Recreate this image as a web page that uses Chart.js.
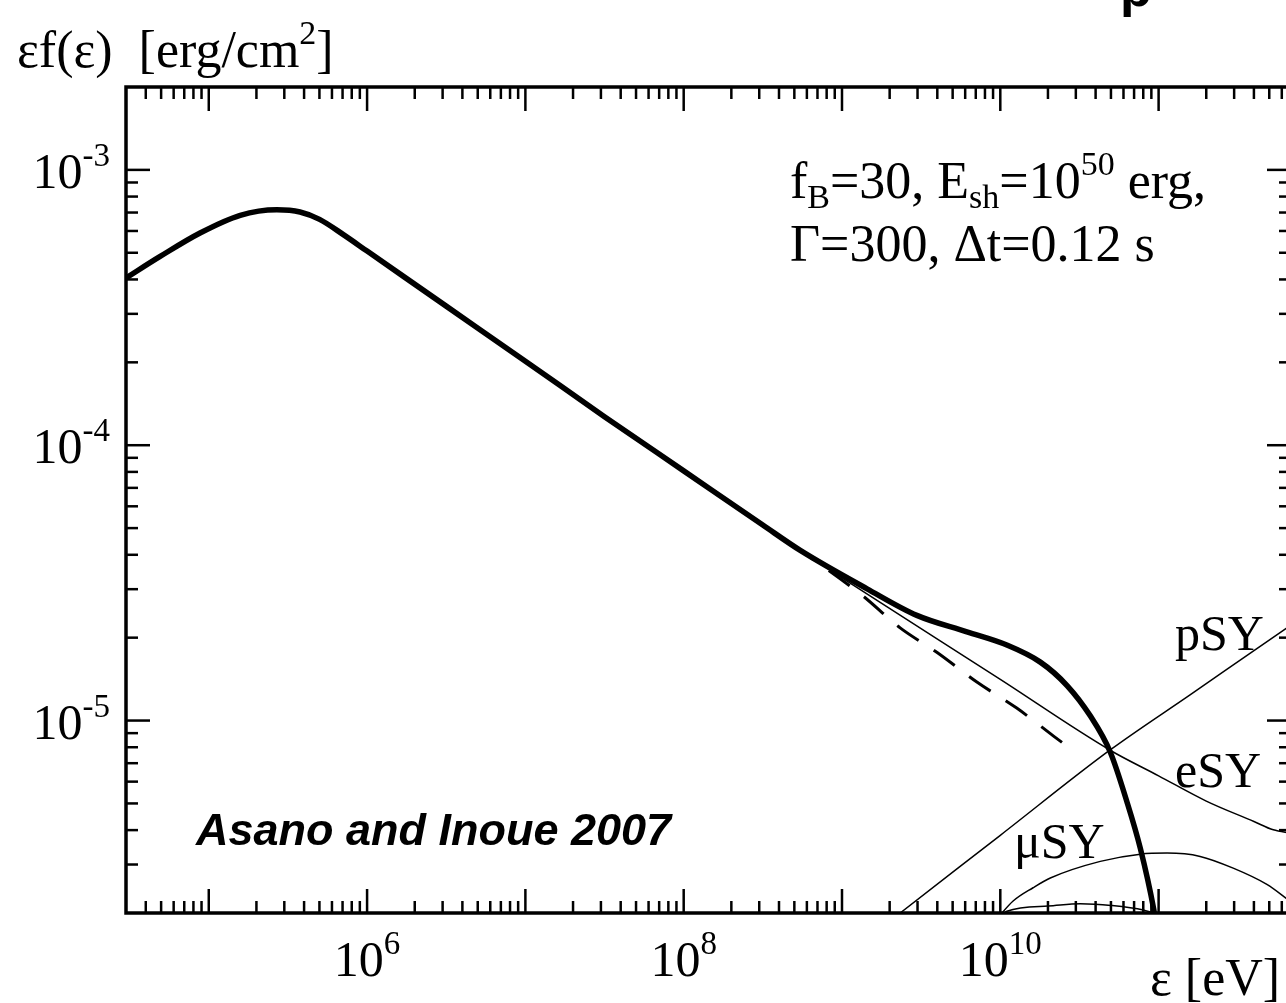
<!DOCTYPE html>
<html>
<head>
<meta charset="utf-8">
<script src="https://cdn.jsdelivr.net/npm/chart.js@4.4.1/dist/chart.umd.min.js"></script>
<style>
  html, body { margin: 0; padding: 0; background: #fff; overflow: hidden; }
  #wrap { width: 1286px; height: 1003px; overflow: hidden; }
</style>
</head>
<body>
<div id="wrap"><canvas id="spec" width="1300" height="1003"></canvas></div>
<script>
// photon energy eps [eV] and eps*f(eps) [erg/cm^2]
const totalE = [3.0e4, 4.93e4, 8.81e4, 1.58e5, 2.69e5, 3.77e5, 5.01e5, 7.08e5, 1e6, 3.16e6, 1e7, 3.16e7, 1e8, 3.16e8, 5.45e8,
                1.44e9, 2.97e9, 6.15e9, 1.10e10, 1.79e10, 2.64e10, 3.70e10, 4.94e10, 6.30e10, 7.66e10, 9.29e10, 1.0e11];
const totalF = [4.05e-4, 4.85e-4, 5.90e-4, 6.84e-4, 7.16e-4, 7.03e-4, 6.61e-4, 5.82e-4, 5.07e-4, 3.20e-4, 2.02e-4, 1.27e-4, 8.07e-5, 5.13e-5, 4.15e-5,
                3.01e-5, 2.41e-5, 2.10e-5, 1.88e-5, 1.63e-5, 1.34e-5, 1.04e-5, 7.7e-6, 5.08e-6, 3.44e-6, 2.08e-6, 1.6e-6];

// electron synchrotron (thin line)
const eSyE = [3.0e4, 4.93e4, 8.81e4, 1.58e5, 2.69e5, 3.77e5, 5.01e5, 7.08e5, 1e6, 3.16e6, 1e7, 3.16e7, 1e8, 3.16e8, 5.45e8,
              1e9, 1e10, 4.94e10, 1e11, 2e11, 4e11, 5.3e11, 6.86e11];
const eSyF = [4.05e-4, 4.85e-4, 5.90e-4, 6.84e-4, 7.16e-4, 7.03e-4, 6.61e-4, 5.82e-4, 5.07e-4, 3.20e-4, 2.02e-4, 1.27e-4, 8.07e-5, 5.13e-5, 4.15e-5,
              3.30e-5, 1.41e-5, 7.8e-6, 6.3e-6, 5.1e-6, 4.3e-6, 4.01e-6, 3.9e-6];

// dashed curve
const dashE = [1e8, 3.16e8, 5.45e8, 1.34e9, 2.33e9, 3.97e9, 7.11e9, 1.27e10, 2.16e10, 2.5e10];
const dashF = [8.07e-5, 5.13e-5, 4.15e-5, 2.85e-5, 2.17e-5, 1.77e-5, 1.38e-5, 1.11e-5, 8.8e-6, 8.26e-6];

// proton synchrotron
const pSyE = [1.58e9, 2.33e9, 1e10, 4.94e10, 1.58e11, 6.4e11, 6.86e11];
const pSyF = [1.68e-6, 2.0e-6, 3.83e-6, 7.82e-6, 1.24e-5, 2.16e-5, 2.22e-5];

// muon synchrotron (upper arc) and the small arc under it
const muSyE = [9.55e9, 1.205e10, 1.61e10, 2.07e10, 4.28e10, 7.66e10, 1.13e11, 1.83e11, 2.96e11, 4.83e11, 6.40e11, 6.86e11];
const muSyF = [1.91e-6, 2.21e-6, 2.47e-6, 2.68e-6, 3.08e-6, 3.27e-6, 3.30e-6, 3.21e-6, 2.91e-6, 2.54e-6, 2.26e-6, 2.19e-6];
const smallE = [9.55e9, 1.1e10, 2e10, 3.2e10, 5e10, 8e10, 1.2e11];
const smallF = [1.85e-6, 2.03e-6, 2.12e-6, 2.16e-6, 2.13e-6, 2.05e-6, 1.9e-6];

const xLabelExp = [6, 8, 10];
const yLabelExp = [-3, -4, -5];

const SERIF = '"Liberation Serif", "Times New Roman", serif';

function pts(xs, ys) { return xs.map((x, i) => ({ x: x, y: ys[i] })); }

// draws text runs; kind '' normal, 'sup' superscript, 'sub' subscript
function rich(ctx, parts, x, y, size, align) {
  const small = Math.round(size * 0.66);
  let total = 0;
  parts.forEach(p => {
    ctx.font = (p[1] ? small : size) + 'px ' + SERIF;
    total += ctx.measureText(p[0]).width;
  });
  let cx = align === 'center' ? x - total / 2 : align === 'right' ? x - total : x;
  ctx.textAlign = 'left';
  ctx.textBaseline = 'alphabetic';
  parts.forEach(p => {
    ctx.font = (p[1] ? small : size) + 'px ' + SERIF;
    const dy = p[1] === 'sup' ? -size * 0.44 : p[1] === 'sub' ? size * 0.2 : 0;
    ctx.fillText(p[0], cx, y + dy);
    cx += ctx.measureText(p[0]).width;
  });
}

const frame = {
  id: 'frame',
  afterDraw(chart) {
    const { ctx, chartArea: a, scales: { x, y } } = chart;
    ctx.save();
    ctx.strokeStyle = '#000';
    ctx.fillStyle = '#000';
    ctx.lineCap = 'butt';
    const seg = (x1, y1, x2, y2) => { ctx.beginPath(); ctx.moveTo(x1, y1); ctx.lineTo(x2, y2); ctx.stroke(); };

    ctx.lineWidth = 2.5;
    for (let d = 4; d <= 12; d++) {
      for (let m = 1; m <= 9; m++) {
        const v = Number(m + 'e' + d);
        if (v <= x.min * 1.01 || v >= x.max) continue;
        const px = x.getPixelForValue(v);
        const len = m === 1 ? 24 : 12;
        seg(px, a.bottom, px, a.bottom - len);
        seg(px, a.top, px, a.top + len);
      }
    }
    for (let d = -7; d <= -3; d++) {
      for (let m = 1; m <= 9; m++) {
        const v = Number(m + 'e' + d);
        if (v <= y.min * 1.01 || v >= y.max * 0.99) continue;
        const py = y.getPixelForValue(v);
        const len = m === 1 ? 24 : 12;
        seg(a.left, py, a.left + len, py);
        seg(a.right, py, a.right - len, py);
      }
    }

    ctx.lineWidth = 3.5;
    ctx.strokeRect(a.left, a.top, a.right - a.left, a.bottom - a.top);

    xLabelExp.forEach(e => {
      rich(ctx, [['10', ''], [String(e), 'sup']], x.getPixelForValue(Number('1e' + e)), 976, 50, 'center');
    });
    yLabelExp.forEach(e => {
      rich(ctx, [['10', ''], [String(e), 'sup']], 110, y.getPixelForValue(Number('1e' + e)) + 18, 50, 'right');
    });

    rich(ctx, [['\u03B5f(\u03B5)  [erg/cm', ''], ['2', 'sup'], [']', '']], 17, 67, 52, 'left');
    rich(ctx, [['\u03B5 [eV]', '']], 1150, 995, 52, 'left');

    rich(ctx, [['f', ''], ['B', 'sub'], ['=30, E', ''], ['sh', 'sub'], ['=10', ''], ['50', 'sup'], [' erg,', '']], 790, 198, 52, 'left');
    rich(ctx, [['\u0393=300, \u0394t=0.12 s', '']], 790, 261, 52, 'left');

    rich(ctx, [['pSY', '']], 1175, 650, 50, 'left');
    rich(ctx, [['eSY', '']], 1175, 787, 50, 'left');
    rich(ctx, [['\u03BCSY', '']], 1014, 858, 50, 'left');

    ctx.font = 'italic bold 45px "Liberation Sans", Arial, sans-serif';
    ctx.textAlign = 'left';
    ctx.fillText('Asano and Inoue 2007', 196, 845);

    // descender of the cropped heading above the figure
    ctx.font = 'bold 52px "Liberation Sans", Arial, sans-serif';
    ctx.fillText('p', 1120, 6);
    ctx.restore();
  }
};

const thin = { borderColor: '#000', borderWidth: 1.5, pointRadius: 0, fill: false, cubicInterpolationMode: 'monotone' };

new Chart(document.getElementById('spec'), {
  type: 'line',
  data: {
    datasets: [
      { label: 'total', data: pts(totalE, totalF), borderColor: '#000', borderWidth: 5.5, pointRadius: 0, fill: false, cubicInterpolationMode: 'monotone' },
      { label: 'no hadron', data: pts(dashE, dashF), borderColor: '#000', borderWidth: 3, borderDash: [26, 18], pointRadius: 0, fill: false, cubicInterpolationMode: 'monotone' },
      Object.assign({ label: 'eSY', data: pts(eSyE, eSyF) }, thin),
      Object.assign({ label: 'pSY', data: pts(pSyE, pSyF) }, thin),
      Object.assign({ label: 'muSY', data: pts(muSyE, muSyF) }, thin),
      Object.assign({ label: 'muSY2', data: pts(smallE, smallF) }, thin)
    ]
  },
  options: {
    responsive: false,
    animation: false,
    devicePixelRatio: 1,
    layout: { padding: { left: 126, right: 9, top: 87, bottom: 90 } },
    plugins: { legend: { display: false }, tooltip: { enabled: false } },
    scales: {
      x: { type: 'logarithmic', min: 3.0e4, max: 6.86e11, display: false },
      y: { type: 'logarithmic', min: 2.0e-6, max: 2.0e-3, display: false }
    }
  },
  plugins: [frame]
});
</script>
</body>
</html>
